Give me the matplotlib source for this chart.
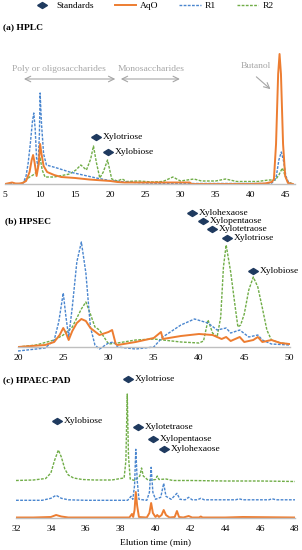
import numpy as np
import matplotlib.pyplot as plt
from matplotlib.lines import Line2D

plt.rcParams['font.family'] = ['Liberation Serif', 'DejaVu Serif']

# colours
c_aqo = '#ED7D31'
c_r1 = '#4A86CF'
c_r2 = '#70AD47'
c_std = '#1F3A5F'
c_grey = '#A6A6A6'

# ---------------- (a) HPLC ----------------
a_aqo_t = [5, 6, 6.5, 7, 7.5, 8, 8.5, 8.8, 9.0, 9.2, 9.5, 9.8, 10.0, 10.2, 10.5, 11, 12, 13, 15, 17,
           19, 20, 21, 22, 25, 30, 31.3, 31.6, 35, 40, 42, 43, 43.3, 43.6, 43.9, 44.1, 44.3, 44.6, 44.9, 45.3, 46]
a_aqo_y = [0, 1.5, 0.5, 0.5, 1, 3, 12, 24, 29, 22, 8, 20, 40, 30, 18, 12, 9, 7, 6, 4.5,
           3.5, 3, 2, 1.5, 1.5, 1.5, 1.5, 0, 0, 0, 0.5, 2, 5, 40, 110, 130, 110, 40, 8, 1, 0]

a_r1_t = [5, 7, 7.6, 8.0, 8.3, 8.6, 8.9, 9.1, 9.3, 9.5, 9.7, 9.9, 10.0, 10.2, 10.5, 10.9, 12.4, 14.2, 16.1,
          18, 19.9, 22, 25, 28, 30, 35, 40, 42, 43, 43.6, 44.0, 44.35, 44.7, 45.0, 45.4, 46]
a_r1_y = [0, 0, 1, 8, 21, 40, 62, 71, 55, 25, 17, 50, 91, 60, 30, 19, 16, 12, 9,
          6, 3.5, 2, 1, 0.5, 0.5, 0.5, 0.5, 0.5, 1, 6, 24, 32, 22, 8, 1, 0]

a_r2_t = [5, 7, 7.5, 8, 8.5, 9, 9.5, 9.8, 10.0, 10.3, 10.7, 12, 14.2, 15.1, 15.8, 16.6, 17.2, 17.6, 18.0,
          18.5, 19.0, 19.6, 20.2, 21, 21.7, 22.3, 24, 26, 27.5, 28.9, 30, 31.9, 33, 35, 36.4, 38, 41,
          42.5, 43.5, 44.0, 44.5, 44.9, 45.3, 46]
a_r2_y = [0, 0, 1, 4, 7, 9, 12, 20, 26, 14, 7, 7, 10, 14, 19, 14, 25, 38, 22,
          6, 12, 24, 5, 3, 5, 2.5, 3, 2, 2.5, 7, 3, 5, 3, 3, 5, 2.5, 2.5,
          4, 4, 9, 16, 8, 2, 0]

a_std_t = [17.9, 19.6]
a_std_y = [47, 32]
a_std_lab = ['Xylotriose', 'Xylobiose']

# ---------------- (b) HPSEC ----------------
b_aqo_t = [20, 23, 24, 24.6, 25, 25.3, 25.6, 26.0, 26.5, 27, 27.5, 28, 29, 30, 30.4, 30.8, 31, 33, 35, 35.8,
           36.0, 38, 40, 41.5, 42, 42.5, 43, 43.5, 44, 44.5, 45, 45.5, 46, 46.5, 47, 47.5, 48, 49, 50]
b_aqo_y = [0, 2, 5, 12, 19, 14, 7, 16, 24, 28, 26, 19, 12, 15, 17, 3, 2, 5, 9, 15,
           8, 11, 13, 12, 10, 8, 10, 6, 8, 10, 5, 6, 7, 10, 5, 6, 7, 4, 3]

b_r1_t = [20, 23, 24, 24.5, 25, 25.3, 25.6, 26, 26.5, 27, 27.5, 28, 28.5, 29, 30, 30.6, 31, 33, 35, 36,
          38, 39.5, 41, 42, 43, 43.5, 44.5, 45.5, 46.5, 47, 48, 50]
b_r1_y = [-4, -1, 7, 25, 54, 30, 10, 40, 85, 105, 74, 20, 2, -2, 4, 5, 0, -2, 0, 10,
          22, 28, 24, 17, 19, 14, 17, 10, 12, 7, 3, 2]

b_r2_t = [20, 22, 24, 25, 26, 27, 27.5, 28, 28.5, 29, 29.5, 30, 31, 33, 35, 36, 38, 40, 40.5, 41,
          41.5, 42, 42.4, 42.7, 43, 43.5, 44, 44.3, 44.6, 45, 45.5, 46, 46.5, 47, 47.5, 48, 49, 50]
b_r2_y = [0, 2, 7, 12, 20, 38, 45, 33, 20, 17, 10, 3, 4, 7, 8, 7, 5, 4, 6, 27,
          14, 10, 30, 80, 102, 75, 40, 20, 22, 33, 57, 70, 60, 39, 17, 7, 4, 3]

b_std_t = [39.2, 40.4, 41.4, 43.1, 46.0]
b_std_y = [134, 126, 118, 109, 76]
b_std_lab = ['Xylohexaose', 'Xylopentaose', 'Xylotetraose', 'Xylotriose', 'Xylobiose']

# ---------------- (c) HPAEC-PAD ----------------
c_aqo_t = [32, 33, 34.0, 34.3, 34.6, 35, 36, 38.5, 38.65, 38.72, 38.8, 38.87, 38.95, 39.05, 39.5, 39.65,
           39.75, 39.85, 40.0, 40.1, 40.2, 40.35, 40.47, 40.6, 40.8, 41.1, 41.23, 41.35, 41.6, 41.9, 42.1,
           42.5, 42.6, 42.7, 44, 45, 48]
c_aqo_y = [0.5, 0.5, 1, 3, 1.5, 0.5, 0.5, 0.5, 4, 1, 8, 26, 12, 1, 0.5, 5,
           15, 5, 1, 3, 1, 3, 8, 3, 0.5, 1, 7, 1, 0.5, 2, 0.5,
           0.5, 1.5, 0.5, 0.5, 1, 0.5]

c_r1_t = [32, 33.5, 34.0, 34.3, 34.6, 35, 36, 38.4, 38.6, 38.7, 38.8, 38.87, 38.95, 39.05, 39.5, 39.65,
          39.75, 39.85, 40.0, 40.3, 40.47, 40.6, 40.9, 41.23, 41.4, 41.7, 41.9, 42.1, 42.4, 42.6, 42.8,
          44.6, 44.8, 45, 46.5, 46.7, 46.9, 48]
c_r1_y = [0, 0, 2, 5, 2, 0.5, 0, 0, 4, 1, 15, 51, 20, 1, 0, 8,
          33, 8, 1, 3, 17, 4, 1, 7, 1, 0.5, 3, 0.5, 0.5, 2, 0.5,
          0.5, 1.5, 0.5, 0.5, 1.5, 0.5, 0.5]

c_r2_t = [32, 33, 33.7, 34.0, 34.2, 34.43, 34.6, 34.8, 35.0, 35.3, 35.8, 36.5, 37.5, 38.0, 38.2, 38.3,
          38.38, 38.45, 38.55, 38.8, 39.1, 39.2, 39.3, 39.6, 40.0, 40.1, 40.2, 40.6, 41, 42, 44, 46, 48]
c_r2_y = [0.5, 1, 2.5, 8, 20, 31, 24, 12, 6, 3, 1.5, 1, 1, 2.5, 3, 20,
          87, 25, 2, 0.5, 5, 13, 5, 0.5, 1.5, 5, 1.5, 2, 0.5, 0.5, 0, 0, -0.5]

c_std_t = [34.33, 38.44, 39.01, 39.87, 40.49]
c_std_y = [97, 139, 91, 79, 69]
c_std_lab = ['Xylobiose', 'Xylotriose', 'Xylotetraose', 'Xylopentaose', 'Xylohexaose']

c_off_r1 = 17.7
c_off_r2 = 37

W, H = 302, 550
fig = plt.figure(figsize=(W / 100, H / 100), dpi=100)

diamond = [(-1, 0), (0, 0.62), (1, 0), (0, -0.62), (-1, 0)]
fs = 6.8


def make_ax(left, right, top, bottom, ylim, xlim, xticks):
    ax = fig.add_axes([left / W, 1 - bottom / H, (right - left) / W, (bottom - top) / H])
    ax.set_xlim(*xlim)
    ax.set_ylim(*ylim)
    ax.set_xticks(xticks)
    ax.set_yticks([])
    for s in ['top', 'right', 'left']:
        ax.spines[s].set_visible(False)
    ax.spines['bottom'].set_color('#BFBFBF')
    ax.spines['bottom'].set_linewidth(1.0)
    ax.spines['bottom'].set_position(('data', 0))
    ax.tick_params(axis='x', length=0, pad=5, labelsize=fs)
    ax.patch.set_alpha(0)
    return ax


def stds(ax, t, y, labs):
    ax.plot(t, y, linestyle='none', marker=diamond, markersize=7, color=c_std, zorder=5)
    for ti, yi, lab in zip(t, y, labs):
        ax.annotate(lab, (ti, yi), xytext=(5, 0), textcoords='offset points',
                    va='center', ha='left', fontsize=fs)


# (a)
ax1 = make_ax(5, 295, 40, 184, (0, 144), (5, 46.3), range(5, 46, 5))
ax1.plot(a_r2_t, a_r2_y, color=c_r2, lw=1.0, ls=(0, (2, 1)))
ax1.plot(a_r1_t, a_r1_y, color=c_r1, lw=1.0, ls=(0, (2, 1)))
ax1.plot(a_aqo_t, a_aqo_y, color=c_aqo, lw=1.4)
stds(ax1, a_std_t, a_std_y, a_std_lab)
ax1.text(6.0, 115, 'Poly or oligosaccharides', color=c_grey, fontsize=fs, va='center')
ax1.text(21.1, 115, 'Monosaccharides', color=c_grey, fontsize=fs, va='center')
ax1.text(40.7, 118, 'Butanol', color=c_grey, fontsize=fs, va='center', ha='center')
ax1.annotate('', xy=(7.3, 105), xytext=(21.1, 105),
             arrowprops=dict(arrowstyle='<->', color=c_grey, lw=0.8))
ax1.annotate('', xy=(30.3, 105), xytext=(21.1, 105),
             arrowprops=dict(arrowstyle='<->', color=c_grey, lw=0.8))
ax1.annotate('', xy=(43.1, 93), xytext=(40.5, 109),
             arrowprops=dict(arrowstyle='->', color=c_grey, lw=0.8))

# (b)
ax2 = make_ax(18, 289.5, 207, 355, (-8, 140), (20, 50), range(20, 51, 5))
ax2.plot(b_r2_t, b_r2_y, color=c_r2, lw=1.0, ls=(0, (2, 1)))
ax2.plot(b_r1_t, b_r1_y, color=c_r1, lw=1.0, ls=(0, (2, 1)))
ax2.plot(b_aqo_t, b_aqo_y, color=c_aqo, lw=1.4)
stds(ax2, b_std_t, b_std_y, b_std_lab)

# (c)
ax3 = make_ax(16, 295, 372, 518, (0, 146), (32, 48), range(32, 49, 2))
ax3.plot(c_r2_t, np.array(c_r2_y) + c_off_r2, color=c_r2, lw=1.0, ls=(0, (2, 1)))
ax3.plot(c_r1_t, np.array(c_r1_y) + c_off_r1, color=c_r1, lw=1.0, ls=(0, (2, 1)))
ax3.plot(c_aqo_t, c_aqo_y, color=c_aqo, lw=1.4)
stds(ax3, c_std_t, c_std_y, c_std_lab)
ax3.set_xlabel('Elution time (min)', fontsize=fs, labelpad=4)

# panel titles
fig.text(3 / W, 1 - 27 / H, '(a) HPLC', fontsize=fs, fontweight='bold', va='center')
fig.text(5 / W, 1 - 221 / H, '(b) HPSEC', fontsize=fs, fontweight='bold', va='center')
fig.text(3 / W, 1 - 380 / H, '(c) HPAEC-PAD', fontsize=fs, fontweight='bold', va='center')

# legend
handles = [Line2D([], [], ls='none', marker=diamond, markersize=7, color=c_std),
           Line2D([], [], color=c_aqo, lw=1.4),
           Line2D([], [], color=c_r1, lw=1.0, ls=(0, (2, 1))),
           Line2D([], [], color=c_r2, lw=1.0, ls=(0, (2, 1)))]
fig.legend(handles, ['Standards', 'AqO', 'R1', 'R2'], loc='center', ncol=4,
           bbox_to_anchor=(152 / W, 1 - 6 / H), frameon=False, fontsize=fs,
           handlelength=2.3, columnspacing=2.2, handletextpad=0.4, borderpad=0)

fig.savefig('out.png', dpi=100)
